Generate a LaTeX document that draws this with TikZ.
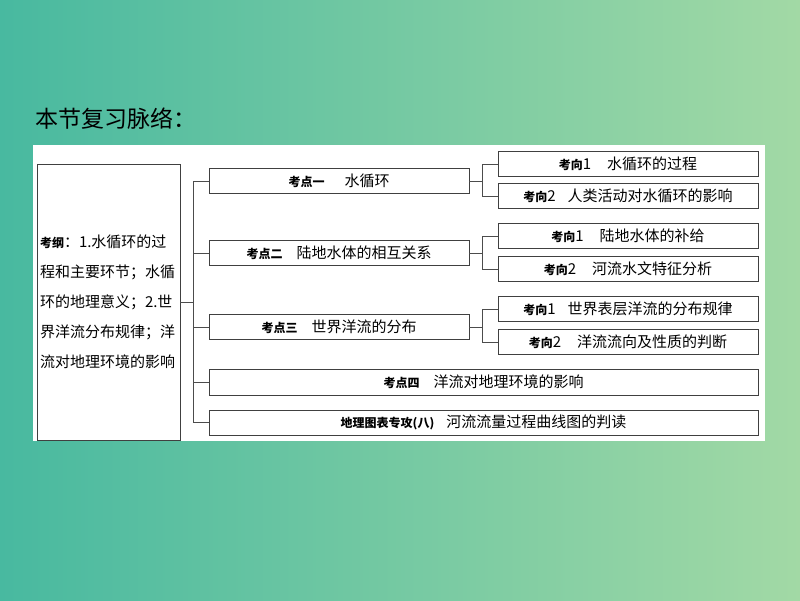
\documentclass[tikz,border=0pt]{standalone}
\usepackage{fontspec}
\setmainfont{Noto Sans CJK SC}
\usepackage{xcolor}
\usepackage{tikz}
\usetikzlibrary{positioning, calc}

\newcommand{\kao}[1]{{\fontsize{12pt}{12pt}\selectfont\bfseries #1}}

\begin{document}
\begin{tikzpicture}[x=1pt, y=-1pt,
    box/.style={draw=black!75, line width=0.8pt, fill=white, inner sep=0pt,
                minimum height=25pt, font=\fontsize{15pt}{15pt}\selectfont},
    kdbox/.style={box, minimum width=260pt},
    kxbox/.style={box, minimum width=260pt},
    longbox/.style={box, minimum width=549pt, minimum height=26pt},
    link/.style={draw=black!70, line width=0.7pt}]
    % colours
    \definecolor{bgleft}{RGB}{72, 185, 160}
    \definecolor{bgright}{RGB}{162, 217, 165}

    % 1. background and white panel
    \useasboundingbox (0,0) rectangle (800,600);
    \shade[left color=bgleft, right color=bgright] (0,0) rectangle (800,600);
    \fill[white] (33,145) rectangle (765,441);

    % 2. title
    \node[anchor=west, inner sep=0pt, font=\fontsize{23pt}{23pt}\selectfont] (title) at (35,119) {本节复习脉络：};

    % 3. left box (考纲)
    \node[draw=black!75, line width=0.8pt, minimum width=143pt, minimum height=276pt,
          inner sep=3pt, text width=137pt, align=left,
          font=\fontsize{15pt}{30pt}\selectfont] (kg) at (108.5,302)
        {\kao{考纲}：1.水循环的过\\程和主要环节；水循\\环的地理意义；2.世\\界洋流分布规律；洋\\流对地理环境的影响};

    % 4. 考点 boxes
    \node[kdbox] (kd1) at (339,181) {\kao{考点一}\hspace{20pt}水循环};
    \node[kdbox] (kd2) at (339,253) {\kao{考点二}\hspace{14pt}陆地水体的相互关系};
    \node[kdbox] (kd3) at (339,327) {\kao{考点三}\hspace{14pt}世界洋流的分布};
    \node[longbox] (kd4) at (483.5,382) {\kao{考点四}\hspace{14pt}洋流对地理环境的影响};
    \node[longbox, minimum height=25pt] (kd5) at (483.5,422.5) {\kao{地理图表专攻(八)}\hspace{12pt}河流流量过程曲线图的判读};

    % 5. 考向 boxes
    \node[kxbox] (kx11) at (628,164) {\kao{考向}1\hspace{16pt}水循环的过程};
    \node[kxbox] (kx12) at (628,196) {\kao{考向}2\hspace{12pt}人类活动对水循环的影响};
    \node[kxbox] (kx21) at (628,236) {\kao{考向}1\hspace{16pt}陆地水体的补给};
    \node[kxbox] (kx22) at (628,269) {\kao{考向}2\hspace{16pt}河流水文特征分析};
    \node[kxbox] (kx31) at (628,309) {\kao{考向}1\hspace{12pt}世界表层洋流的分布规律};
    \node[kxbox] (kx32) at (628,342) {\kao{考向}2\hspace{16pt}洋流流向及性质的判断};

    % 6. connectors
    \foreach \k in {kd1,kd2,kd3,kd4,kd5}
        \draw[link] (\k.west) -- ++(-15,0) |- (kg.east);
    \foreach \a/\b in {kx11/kd1, kx12/kd1, kx21/kd2, kx22/kd2, kx31/kd3, kx32/kd3}
        \draw[link] (\a.west) -- ++(-15,0) |- (\b.east);

\end{tikzpicture}
\end{document}
